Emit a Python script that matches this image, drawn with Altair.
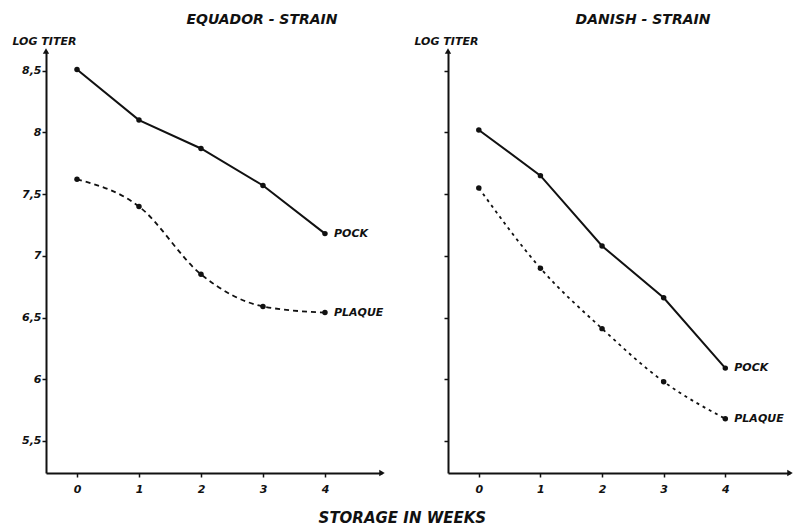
import altair as alt
import pandas as pd

# Storage times (weeks) and log titers for the two vaccinia strains
weeks = [0, 1, 2, 3, 4]
equador_pock = [8.51, 8.10, 7.87, 7.57, 7.18]
equador_plaque = [7.62, 7.40, 6.85, 6.59, 6.54]
danish_pock = [8.02, 7.65, 7.08, 6.66, 6.09]
danish_plaque = [7.55, 6.90, 6.41, 5.98, 5.68]

y_ticks = [5.5, 6, 6.5, 7, 7.5, 8, 8.5]
x_ticks = [0, 1, 2, 3, 4]

FONT = "DejaVu Sans"
INK = "#111111"


def frame(pock, plaque):
    rows = []
    for w, p in zip(weeks, pock):
        rows.append({"week": w, "titer": p, "assay": "POCK"})
    for w, p in zip(weeks, plaque):
        rows.append({"week": w, "titer": p, "assay": "PLAQUE"})
    return pd.DataFrame(rows)


def panel(pock, plaque, title, title_dx, x_max, width, show_labels, dash):
    df = frame(pock, plaque)
    x_scale = alt.Scale(domain=[-0.5, x_max], nice=False, zero=False)
    y_scale = alt.Scale(domain=[5.24, 8.66], nice=False, zero=False)

    x_axis = alt.Axis(
        values=x_ticks, title=None, grid=False, domainColor=INK, domainWidth=2,
        tickColor=INK, tickWidth=1.5, tickSize=4, labelPadding=6,
        labelFont=FONT, labelFontSize=11, labelFontWeight="bold",
        labelFontStyle="italic", labelColor=INK, labelAngle=0,
    )
    y_axis = alt.Axis(
        values=y_ticks, grid=False, domainColor=INK, domainWidth=2,
        tickColor=INK, tickWidth=1.5, tickSize=4, labelPadding=1,
        labels=show_labels, format="~g",
        labelExpr="replace(datum.label, '.', ',')",
        labelFont=FONT, labelFontSize=11, labelFontWeight="bold",
        labelFontStyle="italic", labelColor=INK,
        title="LOG TITER", titleAngle=0, titleAlign="left", titleBaseline="middle",
        titleX=-34, titleY=-10, titleFont=FONT, titleFontSize=11,
        titleFontWeight="bold", titleFontStyle="italic", titleColor=INK,
    )

    x = alt.X("week:Q", scale=x_scale, axis=x_axis)
    y = alt.Y("titer:Q", scale=y_scale, axis=y_axis)

    pock_df = df[df.assay == "POCK"]
    plaque_df = df[df.assay == "PLAQUE"]

    pock_line = alt.Chart(pock_df).mark_line(color=INK, strokeWidth=2).encode(x=x, y=y)
    plaque_line = alt.Chart(plaque_df).mark_line(
        color=INK, strokeWidth=1.8, strokeDash=dash, interpolate="monotone"
    ).encode(x=x, y=y)
    dots = alt.Chart(df).mark_circle(color=INK, size=30, opacity=1).encode(x=x, y=y)
    labels = alt.Chart(df[df.week == weeks[-1]]).mark_text(
        align="left", baseline="middle", dx=9, font=FONT, fontSize=11,
        fontWeight="bold", fontStyle="italic", color=INK,
    ).encode(x=x, y=y, text="assay:N")

    # axis arrow heads
    y_arrow = alt.Chart(pd.DataFrame({"a": [0]})).mark_point(
        shape="triangle-up", filled=True, color=INK, size=40, opacity=1
    ).encode(x=alt.value(0), y=alt.value(0))
    x_arrow = alt.Chart(pd.DataFrame({"a": [0]})).mark_point(
        shape="triangle-right", filled=True, color=INK, size=40, opacity=1
    ).encode(x=alt.value(width), y=alt.value(422))

    return alt.layer(pock_line, plaque_line, dots, labels, y_arrow, x_arrow).properties(
        width=width, height=422,
        title=alt.TitleParams(
            title, font=FONT, fontSize=14, fontWeight="bold", fontStyle="italic",
            color=INK, anchor="middle", dx=title_dx, offset=8,
        ),
    )


left = panel(equador_pock, equador_plaque, "EQUADOR - STRAIN", 48, 4.92, 336, True, [5, 4])
right = panel(danish_pock, danish_plaque, "DANISH - STRAIN", 24, 5.05, 342, False, [3, 4])

chart = alt.hconcat(left, right, spacing=29).properties(
    title=alt.TitleParams(
        "STORAGE IN WEEKS", orient="bottom", anchor="middle", font=FONT,
        fontSize=15, fontWeight="bold", fontStyle="italic", color=INK, offset=17,
    ),
    padding={"left": 12, "top": 13, "right": 0, "bottom": 0},
    background="white",
).configure_view(strokeWidth=0)

chart.save("out.html", embed_options={"renderer": "svg", "actions": False})
